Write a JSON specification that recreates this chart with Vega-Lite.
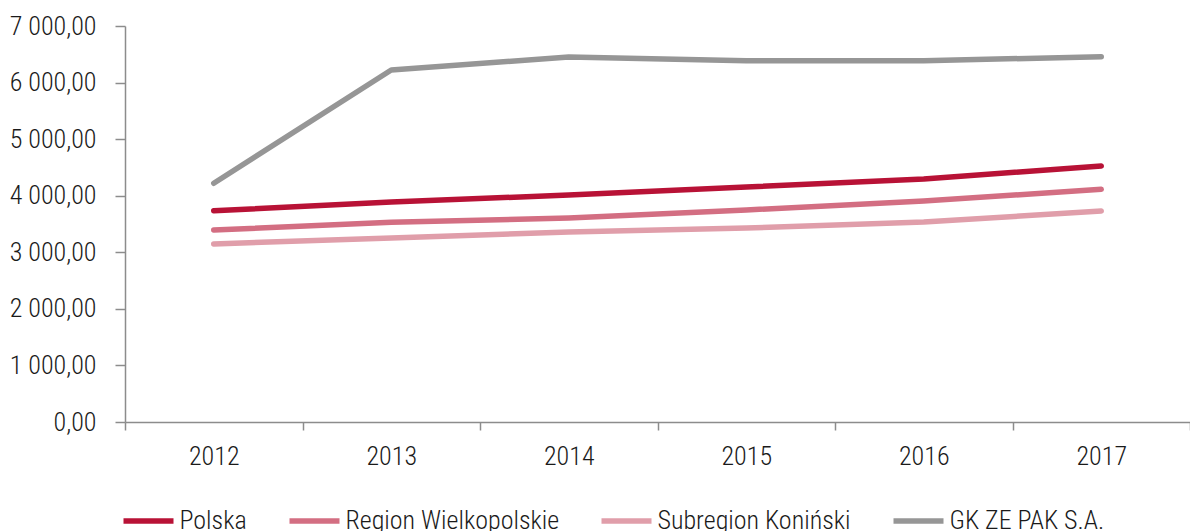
{
  "$schema": "https://vega.github.io/schema/vega-lite/v6.json",
  "autosize": "none",
  "width": 1065,
  "height": 396,
  "padding": {"left": 125, "top": 26, "right": 0, "bottom": 109},
  "background": "white",
  "config": {
    "locale": {"number": {"decimal": ",", "thousands": " ", "grouping": [3], "currency": ["", ""]}},
    "font": "Roboto Condensed, Liberation Sans Narrow, DejaVu Sans Condensed, Roboto, sans-serif",
    "view": {"stroke": null}
  },
  "data": {"values": [
    {"rok": "2012", "seria": "Polska", "v": 3735},
    {"rok": "2013", "seria": "Polska", "v": 3889},
    {"rok": "2014", "seria": "Polska", "v": 4013},
    {"rok": "2015", "seria": "Polska", "v": 4154},
    {"rok": "2016", "seria": "Polska", "v": 4295},
    {"rok": "2017", "seria": "Polska", "v": 4525},
    {"rok": "2012", "seria": "Region Wielkopolskie", "v": 3394},
    {"rok": "2013", "seria": "Region Wielkopolskie", "v": 3530},
    {"rok": "2014", "seria": "Region Wielkopolskie", "v": 3606},
    {"rok": "2015", "seria": "Region Wielkopolskie", "v": 3748},
    {"rok": "2016", "seria": "Region Wielkopolskie", "v": 3907},
    {"rok": "2017", "seria": "Region Wielkopolskie", "v": 4113},
    {"rok": "2012", "seria": "Subregion Koniński", "v": 3147},
    {"rok": "2013", "seria": "Subregion Koniński", "v": 3253},
    {"rok": "2014", "seria": "Subregion Koniński", "v": 3359},
    {"rok": "2015", "seria": "Subregion Koniński", "v": 3429},
    {"rok": "2016", "seria": "Subregion Koniński", "v": 3535},
    {"rok": "2017", "seria": "Subregion Koniński", "v": 3730},
    {"rok": "2012", "seria": "GK ZE PAK S.A.", "v": 4220},
    {"rok": "2013", "seria": "GK ZE PAK S.A.", "v": 6222},
    {"rok": "2014", "seria": "GK ZE PAK S.A.", "v": 6452},
    {"rok": "2015", "seria": "GK ZE PAK S.A.", "v": 6385},
    {"rok": "2016", "seria": "GK ZE PAK S.A.", "v": 6385},
    {"rok": "2017", "seria": "GK ZE PAK S.A.", "v": 6458}
  ]},
  "mark": {"type": "line", "strokeWidth": 5.5, "strokeCap": "round", "strokeJoin": "round"},
  "encoding": {
    "x": {
      "field": "rok", "type": "ordinal",
      "scale": {"type": "band", "paddingInner": 0, "paddingOuter": 0},
      "axis": {
        "title": null, "labelAngle": 0, "tickBand": "extent",
        "domainColor": "#8c8c8c", "domainWidth": 1.5,
        "tickColor": "#8c8c8c", "tickWidth": 1.5, "tickSize": 8,
        "labelFontSize": 26, "labelFontWeight": 300, "labelColor": "#1a1a1a", "labelPadding": 13
      }
    },
    "y": {
      "field": "v", "type": "quantitative",
      "scale": {"domain": [0, 7000], "nice": false},
      "axis": {
        "title": null, "grid": false, "format": ",.2f", "values": [0,1000,2000,3000,4000,5000,6000,7000],
        "labelOverlap": false,
        "domainColor": "#8c8c8c", "domainWidth": 1.5,
        "tickColor": "#8c8c8c", "tickWidth": 1.5, "tickSize": 10,
        "labelFontSize": 26, "labelFontWeight": 300, "labelColor": "#1a1a1a", "labelPadding": 19
      }
    },
    "color": {
      "field": "seria", "type": "nominal",
      "scale": {
        "domain": ["Polska", "Region Wielkopolskie", "Subregion Koniński", "GK ZE PAK S.A."],
        "range": ["#b81236", "#d36e82", "#e09eaa", "#969696"]
      },
      "legend": {
        "title": null, "orient": "none", "direction": "horizontal",
        "legendX": -4.5, "legendY": 467,
        "symbolType": "stroke", "symbolSize": 2500, "symbolStrokeWidth": 5.5,
        "labelFontSize": 26, "labelFontWeight": 300, "labelColor": "#1a1a1a", "labelOffset": 3,
        "columnPadding": 31, "labelLimit": 400
      }
    }
  }
}
